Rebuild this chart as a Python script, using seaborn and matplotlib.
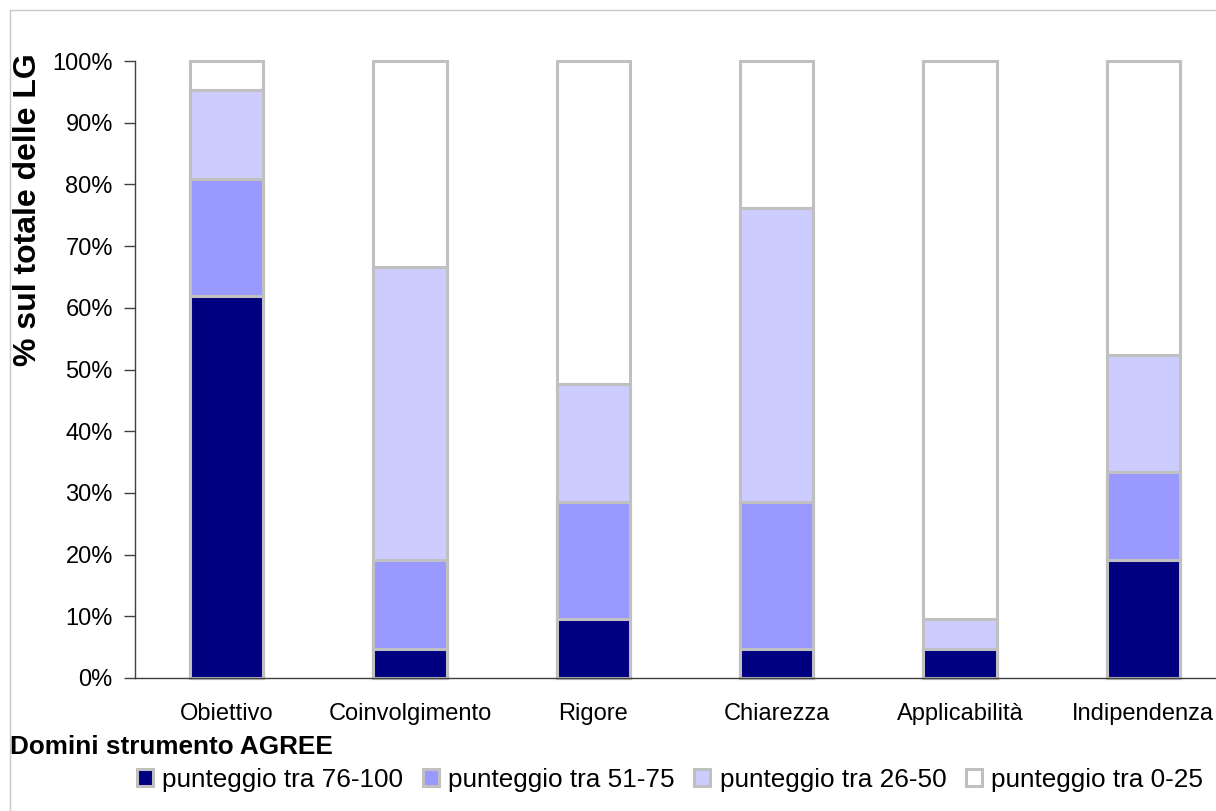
import numpy as np
import matplotlib
matplotlib.use("Agg")
import matplotlib.pyplot as plt
from matplotlib.patches import Patch, Rectangle
import seaborn as sns

# AGREE domains and share of guidelines (%) per score band
domains = ["Obiettivo", "Coinvolgimento", "Rigore", "Chiarezza", "Applicabilità", "Indipendenza"]
band_76_100 = [61.90, 4.76, 9.52, 4.76, 4.76, 19.05]
band_51_75 = [19.05, 14.29, 19.05, 23.81, 0.00, 14.29]
band_26_50 = [14.29, 47.62, 19.05, 47.62, 4.76, 19.05]
band_0_25 = [4.76, 33.33, 52.38, 23.81, 90.48, 47.62]

band_labels = ["punteggio tra 76-100", "punteggio tra 51-75",
               "punteggio tra 26-50", "punteggio tra 0-25"]
band_colors = ["#000080", "#9999FF", "#CCCCFF", "#FFFFFF"]
edge_gray = "#C0C0C0"

y_ticks = list(range(0, 101, 10))

sns.set_style("white")
plt.rcParams["font.family"] = ["Liberation Sans", "DejaVu Sans"]
plt.rcParams["text.color"] = "black"
plt.rcParams["xtick.color"] = "black"
plt.rcParams["ytick.color"] = "black"

fig = plt.figure(figsize=(12.16, 8.11), dpi=100)
W, H = 1216, 811
ax = fig.add_axes([135 / W, 1 - 678 / H, (1235 - 135) / W, (678 - 61) / H])

# stacked bars: draw cumulative totals from the top band down
bands = [band_76_100, band_51_75, band_26_50, band_0_25]
cums = np.cumsum(np.array(bands), axis=0)
for i in range(len(bands) - 1, -1, -1):
    sns.barplot(x=domains, y=cums[i], color=band_colors[i], saturation=1,
                width=0.4, edgecolor=edge_gray, linewidth=2.2, ax=ax)
for p in ax.patches:
    p.set_clip_on(False)

ax.set_xlim(-0.5, 5.5)
ax.set_ylim(0, 100)
ax.set_yticks(y_ticks)
ax.set_yticklabels([f"{v}%" for v in y_ticks])
ax.set_xticks(range(len(domains)))
ax.set_xticklabels(domains)
ax.set_xticks(np.arange(-0.5, 5.6, 1.0), minor=True)
ax.tick_params(axis="x", which="major", length=0, pad=18, labelsize=17, labelcolor="black")
ax.tick_params(axis="x", which="minor", direction="out", length=8, width=1, color="#404040")
ax.tick_params(axis="y", direction="out", length=8, width=1, color="#404040", pad=8,
               labelsize=17, labelcolor="black")
ax.tick_params(left=True, bottom=True)

for s in ("top", "right"):
    ax.spines[s].set_visible(False)
for s in ("left", "bottom"):
    ax.spines[s].set_color("#404040")
    ax.spines[s].set_linewidth(1.0)
ax.set_xlabel("")
ax.set_ylabel("")

fig.text(28 / W, 1 - 210 / H, "% sul totale delle LG", rotation=90,
         ha="center", va="center", fontsize=23, fontweight="bold", color="black")
fig.text(10 / W, 1 - 747 / H, "Domini strumento AGREE",
         ha="left", va="center", fontsize=18.8, fontweight="bold", color="black")

handles = [Patch(facecolor=c, edgecolor=edge_gray, linewidth=2.2) for c in band_colors]
fig.legend(handles, band_labels, loc="center", bbox_to_anchor=(670 / W, 1 - 780 / H),
           ncol=4, frameon=False, fontsize=18.8, handlelength=0.62, handleheight=0.62,
           handletextpad=0.35, columnspacing=0.75, borderaxespad=0, labelcolor="black")

# light outer frame of the chart area
fig.patches.append(Rectangle((10 / W, -0.1), 1.2, 1 - 10 / H + 0.1,
                             transform=fig.transFigure, fill=False,
                             edgecolor="#C8C8C8", linewidth=1.0))

fig.savefig("out.png", dpi=100)
